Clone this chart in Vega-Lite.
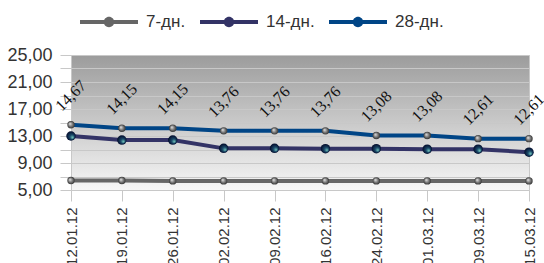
{
  "$schema": "https://vega.github.io/schema/vega-lite/v6.json",
  "autosize": "none",
  "padding": {"left": 71, "top": 55, "right": 15, "bottom": 73},
  "width": 458,
  "height": 135,
  "background": "white",
  "config": {
    "view": {
      "stroke": "#c8c8c8",
      "strokeWidth": 1,
      "fill": {"gradient": "linear", "x1": 0, "y1": 0, "x2": 0, "y2": 1,
        "stops": [{"offset": 0, "color": "#9c9c9c"}, {"offset": 1, "color": "#f7f7f7"}]}
    },
    "font": "Liberation Sans"
  },
  "data": {"values": [
    {"date": "12.01.12", "series": "7-дн.", "value": 6.4},
    {"date": "19.01.12", "series": "7-дн.", "value": 6.4},
    {"date": "26.01.12", "series": "7-дн.", "value": 6.35},
    {"date": "02.02.12", "series": "7-дн.", "value": 6.35},
    {"date": "09.02.12", "series": "7-дн.", "value": 6.35},
    {"date": "16.02.12", "series": "7-дн.", "value": 6.35},
    {"date": "24.02.12", "series": "7-дн.", "value": 6.35},
    {"date": "01.03.12", "series": "7-дн.", "value": 6.35},
    {"date": "09.03.12", "series": "7-дн.", "value": 6.35},
    {"date": "15.03.12", "series": "7-дн.", "value": 6.35},
    {"date": "12.01.12", "series": "14-дн.", "value": 13.0},
    {"date": "19.01.12", "series": "14-дн.", "value": 12.4},
    {"date": "26.01.12", "series": "14-дн.", "value": 12.4},
    {"date": "02.02.12", "series": "14-дн.", "value": 11.17},
    {"date": "09.02.12", "series": "14-дн.", "value": 11.17},
    {"date": "16.02.12", "series": "14-дн.", "value": 11.12},
    {"date": "24.02.12", "series": "14-дн.", "value": 11.12},
    {"date": "01.03.12", "series": "14-дн.", "value": 11.05},
    {"date": "09.03.12", "series": "14-дн.", "value": 11.05},
    {"date": "15.03.12", "series": "14-дн.", "value": 10.6},
    {"date": "12.01.12", "series": "28-дн.", "value": 14.67},
    {"date": "19.01.12", "series": "28-дн.", "value": 14.15},
    {"date": "26.01.12", "series": "28-дн.", "value": 14.15},
    {"date": "02.02.12", "series": "28-дн.", "value": 13.76},
    {"date": "09.02.12", "series": "28-дн.", "value": 13.76},
    {"date": "16.02.12", "series": "28-дн.", "value": 13.76},
    {"date": "24.02.12", "series": "28-дн.", "value": 13.08},
    {"date": "01.03.12", "series": "28-дн.", "value": 13.08},
    {"date": "09.03.12", "series": "28-дн.", "value": 12.61},
    {"date": "15.03.12", "series": "28-дн.", "value": 12.61}
  ]},
  "encoding": {
    "x": {
      "field": "date", "type": "nominal", "sort": null,
      "scale": {"type": "point", "padding": 0},
      "axis": {
        "title": null, "labelAngle": -90, "grid": false, "domain": false,
        "tickSize": 11, "tickColor": "#c8c8c8", "labelPadding": 6,
        "labelFontSize": 15, "labelColor": "#333333", "labelOverlap": false,
        "labelFont": "Liberation Sans"
      }
    },
    "y": {
      "field": "value", "type": "quantitative",
      "scale": {"domain": [5, 25], "nice": false, "zero": false},
      "axis": {
        "title": null, "values": [5, 7, 9, 11, 13, 15, 17, 19, 21, 23, 25],
        "grid": true, "gridColor": "#c8c8c8", "gridWidth": 1,
        "domain": false, "tickSize": 11, "tickColor": "#c8c8c8",
        "labelPadding": 8, "labelFontSize": 18, "labelColor": "#333333",
        "labelFont": "Liberation Sans",
        "labelExpr": "(datum.value - 5) % 4 == 0 ? replace(format(datum.value, '.2f'), '.', ',') : ''"
      }
    }
  },
  "layer": [
    {
      "mark": {"type": "line", "strokeWidth": 4},
      "encoding": {
        "color": {
          "field": "series", "type": "nominal",
          "scale": {"domain": ["7-дн.", "14-дн.", "28-дн."], "range": ["#666666", "#333366", "#004586"]},
          "legend": {
            "title": null, "orient": "none", "direction": "horizontal",
            "legendX": 9, "legendY": -62,
            "symbolType": "M-1,-0.07H1V0.07H-1Z M-0.18,0A0.18,0.18 0 1,1 0.18,0A0.18,0.18 0 1,1 -0.18,0Z",
            "symbolSize": 3364, "symbolStrokeWidth": 0, "labelOffset": 8,
            "columnPadding": 14, "labelFontSize": 17, "labelColor": "#333333",
            "labelFont": "Liberation Sans",
            "encode": {"symbols": {"update": {"fill": {"scale": "color", "field": "value"}, "fillOpacity": {"value": 1}, "strokeWidth": {"value": 0}}}}
          }
        }
      }
    },
    {
      "transform": [{"filter": "datum.series != '14-дн.'"}],
      "mark": {"type": "point", "filled": true, "size": 55, "opacity": 1,
        "fill": {"gradient": "radial", "x1": 0.35, "y1": 0.35, "r1": 0, "x2": 0.5, "y2": 0.5, "r2": 0.5,
          "stops": [{"offset": 0, "color": "#eeeeee"}, {"offset": 0.5, "color": "#888888"}, {"offset": 1, "color": "#333333"}]}}
    },
    {
      "transform": [{"filter": "datum.series == '14-дн.'"}],
      "mark": {"type": "point", "filled": true, "size": 90, "opacity": 1,
        "fill": {"gradient": "radial", "x1": 0.7, "y1": 0.7, "r1": 0, "x2": 0.5, "y2": 0.5, "r2": 0.5,
          "stops": [{"offset": 0, "color": "#7fd6c6"}, {"offset": 0.45, "color": "#1a4a6a"}, {"offset": 1, "color": "#020a2a"}]}}
    },
    {
      "transform": [
        {"filter": "datum.series == '28-дн.'"},
        {"calculate": "replace(format(datum.value, '.2f'), '.', ',')", "as": "label"}
      ],
      "mark": {"type": "text", "angle": -45, "align": "center", "baseline": "middle",
        "yOffset": -29, "fontSize": 16, "font": "Liberation Serif", "color": "#111111"},
      "encoding": {"text": {"field": "label"}}
    }
  ]
}
